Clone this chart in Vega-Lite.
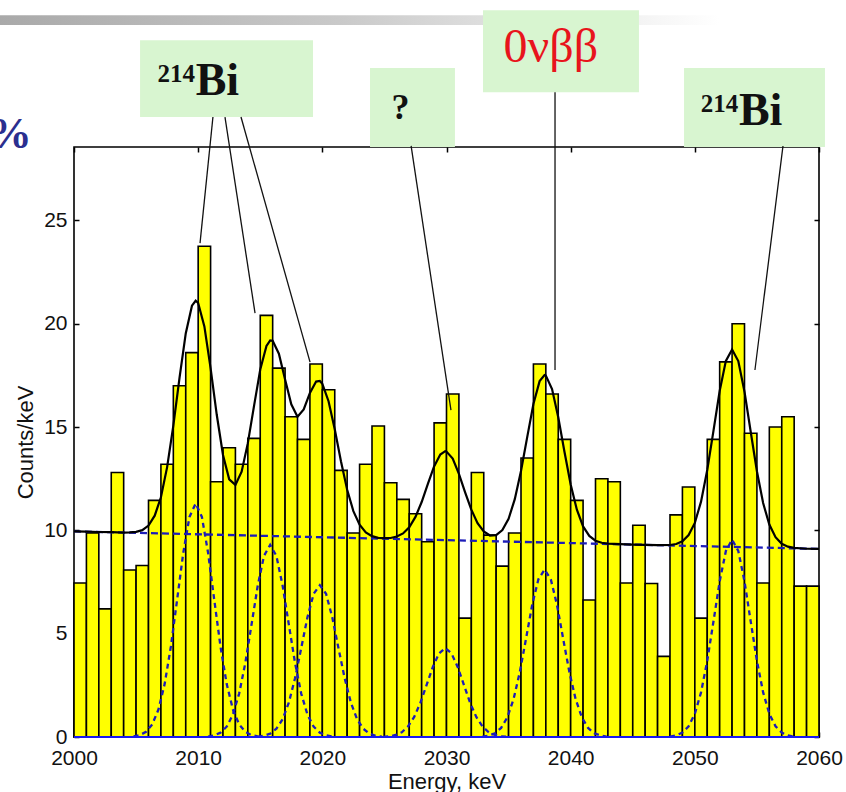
{
"$schema": "https://vega.github.io/schema/vega-lite/v6.json",
"width": 745, "height": 590,
"autosize": "none",
"padding": {"left": 74, "top": 147, "right": 27, "bottom": 55},
"background": "white",
"config": {"view": {"stroke": "#000", "strokeWidth": 1.6}, "axis": {"grid": false, "domain": false, "labelFont": "Liberation Sans", "titleFont": "Liberation Sans", "labelColor": "#111", "titleColor": "#111", "titleFontWeight": "normal", "tickColor": "#000", "tickWidth": 1.5}},
"resolve": {"axis": {"x": "independent", "y": "independent"}},
"datasets": {
"bars": [
{"lo":2000,"hi":2001,"c":7.45},{"lo":2001,"hi":2002,"c":9.87},{"lo":2002,"hi":2003,"c":6.2},{"lo":2003,"hi":2004,"c":12.8},{"lo":2004,"hi":2005,"c":8.08},
{"lo":2005,"hi":2006,"c":8.3},{"lo":2006,"hi":2007,"c":11.45},{"lo":2007,"hi":2008,"c":13.2},{"lo":2008,"hi":2009,"c":17.0},{"lo":2009,"hi":2010,"c":18.6},
{"lo":2010,"hi":2011,"c":23.75},{"lo":2011,"hi":2012,"c":12.35},{"lo":2012,"hi":2013,"c":14.0},{"lo":2013,"hi":2014,"c":13.2},{"lo":2014,"hi":2015,"c":14.45},
{"lo":2015,"hi":2016,"c":20.4},{"lo":2016,"hi":2017,"c":17.85},{"lo":2017,"hi":2018,"c":15.5},{"lo":2018,"hi":2019,"c":14.4},{"lo":2019,"hi":2020,"c":18.05},
{"lo":2020,"hi":2021,"c":16.8},{"lo":2021,"hi":2022,"c":12.9},{"lo":2022,"hi":2023,"c":9.87},{"lo":2023,"hi":2024,"c":13.2},{"lo":2024,"hi":2025,"c":15.05},
{"lo":2025,"hi":2026,"c":12.3},{"lo":2026,"hi":2027,"c":11.5},{"lo":2027,"hi":2028,"c":10.8},{"lo":2028,"hi":2029,"c":9.45},{"lo":2029,"hi":2030,"c":15.2},
{"lo":2030,"hi":2031,"c":16.6},{"lo":2031,"hi":2032,"c":5.75},{"lo":2032,"hi":2033,"c":12.8},{"lo":2033,"hi":2034,"c":9.77},{"lo":2034,"hi":2035,"c":8.27},
{"lo":2035,"hi":2036,"c":9.87},{"lo":2036,"hi":2037,"c":13.5},{"lo":2037,"hi":2038,"c":18.05},{"lo":2038,"hi":2039,"c":16.6},{"lo":2039,"hi":2040,"c":14.4},
{"lo":2040,"hi":2041,"c":11.45},{"lo":2041,"hi":2042,"c":6.63},{"lo":2042,"hi":2043,"c":12.5},{"lo":2043,"hi":2044,"c":12.35},{"lo":2044,"hi":2045,"c":7.45},
{"lo":2045,"hi":2046,"c":10.25},{"lo":2046,"hi":2047,"c":7.43},{"lo":2047,"hi":2048,"c":3.9},{"lo":2048,"hi":2049,"c":10.75},{"lo":2049,"hi":2050,"c":12.1},
{"lo":2050,"hi":2051,"c":5.75},{"lo":2051,"hi":2052,"c":14.4},{"lo":2052,"hi":2053,"c":18.15},{"lo":2053,"hi":2054,"c":20.0},{"lo":2054,"hi":2055,"c":14.7},
{"lo":2055,"hi":2056,"c":7.45},{"lo":2056,"hi":2057,"c":15.0},{"lo":2057,"hi":2058,"c":15.5},{"lo":2058,"hi":2059,"c":7.3},{"lo":2059,"hi":2060,"c":7.3}
],
"fit": [
{"e":2000,"v":9.95},{"e":2001,"v":9.94},{"e":2002,"v":9.92},{"e":2003,"v":9.91},{"e":2004,"v":9.89},{"e":2004.5,"v":9.9},{"e":2005,"v":9.93},{"e":2005.5,"v":10.01},
{"e":2006,"v":10.23},{"e":2006.5,"v":10.71},{"e":2007,"v":11.6},{"e":2007.5,"v":13.06},{"e":2008,"v":15.07},{"e":2008.5,"v":17.39},{"e":2009,"v":19.53},{"e":2009.5,"v":20.87},
{"e":2009.8,"v":21.11},{"e":2010,"v":21.0},{"e":2010.5,"v":19.87},{"e":2011,"v":17.85},{"e":2011.5,"v":15.58},{"e":2012,"v":13.65},{"e":2012.5,"v":12.47},{"e":2013,"v":12.2},
{"e":2013.5,"v":12.84},{"e":2014,"v":14.22},{"e":2014.5,"v":16.02},{"e":2015,"v":17.78},{"e":2015.5,"v":18.92},{"e":2015.8,"v":19.19},{"e":2016,"v":19.17},{"e":2016.5,"v":18.55},
{"e":2017,"v":17.3},{"e":2017.5,"v":16.1},{"e":2018,"v":15.5},{"e":2018.5,"v":15.85},{"e":2019,"v":16.65},{"e":2019.5,"v":17.2},{"e":2019.8,"v":17.23},{"e":2020,"v":17.09},
{"e":2020.5,"v":16.25},{"e":2021,"v":14.89},{"e":2021.5,"v":13.34},{"e":2022,"v":11.96},{"e":2022.5,"v":10.93},{"e":2023,"v":10.27},{"e":2023.5,"v":9.9},{"e":2024,"v":9.72},
{"e":2024.5,"v":9.64},{"e":2025,"v":9.62},{"e":2025.5,"v":9.63},{"e":2026,"v":9.7},{"e":2026.5,"v":9.85},{"e":2027,"v":10.15},{"e":2027.5,"v":10.65},{"e":2028,"v":11.37},
{"e":2028.5,"v":12.25},{"e":2029,"v":13.09},{"e":2029.5,"v":13.67},{"e":2029.9,"v":13.83},{"e":2030,"v":13.81},{"e":2030.5,"v":13.47},{"e":2031,"v":12.73},{"e":2031.5,"v":11.84},
{"e":2032,"v":11.0},{"e":2032.5,"v":10.35},{"e":2033,"v":9.95},{"e":2033.5,"v":9.75},{"e":2034,"v":9.77},{"e":2034.5,"v":10.01},{"e":2035,"v":10.56},{"e":2035.5,"v":11.51},
{"e":2036,"v":12.87},{"e":2036.5,"v":14.51},{"e":2037,"v":16.11},{"e":2037.5,"v":17.22},{"e":2037.9,"v":17.51},{"e":2038,"v":17.49},{"e":2038.5,"v":16.84},{"e":2039,"v":15.47},
{"e":2039.5,"v":13.8},{"e":2040,"v":12.22},{"e":2040.5,"v":11.0},{"e":2041,"v":10.19},{"e":2041.5,"v":9.73},{"e":2042,"v":9.5},{"e":2042.5,"v":9.4},{"e":2043,"v":9.36},
{"e":2044,"v":9.33},{"e":2045,"v":9.31},{"e":2046,"v":9.3},{"e":2047,"v":9.28},{"e":2048,"v":9.29},{"e":2048.5,"v":9.34},{"e":2049,"v":9.47},{"e":2049.5,"v":9.77},
{"e":2050,"v":10.36},{"e":2050.5,"v":11.39},{"e":2051,"v":12.92},{"e":2051.5,"v":14.81},{"e":2052,"v":16.74},{"e":2052.5,"v":18.2},{"e":2053,"v":18.75},{"e":2053.5,"v":18.19},
{"e":2054,"v":16.71},{"e":2054.5,"v":14.77},{"e":2055,"v":12.86},{"e":2055.5,"v":11.32},{"e":2056,"v":10.28},{"e":2056.5,"v":9.67},{"e":2057,"v":9.35},{"e":2057.5,"v":9.21},
{"e":2058,"v":9.15},{"e":2059,"v":9.11},{"e":2060,"v":9.1}
],
"gauss": [
{"p":"P1","e":2004.8,"v":0.03},{"p":"P1","e":2005.3,"v":0.09},{"p":"P1","e":2005.8,"v":0.25},{"p":"P1","e":2006.3,"v":0.61},{"p":"P1","e":2006.8,"v":1.33},{"p":"P1","e":2007.3,"v":2.56},{"p":"P1","e":2007.8,"v":4.37},{"p":"P1","e":2008.3,"v":6.62},{"p":"P1","e":2008.8,"v":8.91},{"p":"P1","e":2009.3,"v":10.65},{"p":"P1","e":2009.8,"v":11.3},{"p":"P1","e":2010.3,"v":10.65},{"p":"P1","e":2010.8,"v":8.91},{"p":"P1","e":2011.3,"v":6.62},{"p":"P1","e":2011.8,"v":4.37},{"p":"P1","e":2012.3,"v":2.56},{"p":"P1","e":2012.8,"v":1.33},{"p":"P1","e":2013.3,"v":0.61},{"p":"P1","e":2013.8,"v":0.25},{"p":"P1","e":2014.3,"v":0.09},{"p":"P1","e":2014.8,"v":0.03},
{"p":"P2","e":2010.8,"v":0.02},{"p":"P2","e":2011.3,"v":0.08},{"p":"P2","e":2011.8,"v":0.21},{"p":"P2","e":2012.3,"v":0.5},{"p":"P2","e":2012.8,"v":1.09},{"p":"P2","e":2013.3,"v":2.1},{"p":"P2","e":2013.8,"v":3.59},{"p":"P2","e":2014.3,"v":5.45},{"p":"P2","e":2014.8,"v":7.33},{"p":"P2","e":2015.3,"v":8.76},{"p":"P2","e":2015.8,"v":9.3},{"p":"P2","e":2016.3,"v":8.76},{"p":"P2","e":2016.8,"v":7.33},{"p":"P2","e":2017.3,"v":5.45},{"p":"P2","e":2017.8,"v":3.59},{"p":"P2","e":2018.3,"v":2.1},{"p":"P2","e":2018.8,"v":1.09},{"p":"P2","e":2019.3,"v":0.5},{"p":"P2","e":2019.8,"v":0.21},{"p":"P2","e":2020.3,"v":0.08},{"p":"P2","e":2020.8,"v":0.02},
{"p":"P3","e":2014.8,"v":0.02},{"p":"P3","e":2015.3,"v":0.06},{"p":"P3","e":2015.8,"v":0.16},{"p":"P3","e":2016.3,"v":0.4},{"p":"P3","e":2016.8,"v":0.86},{"p":"P3","e":2017.3,"v":1.66},{"p":"P3","e":2017.8,"v":2.84},{"p":"P3","e":2018.3,"v":4.3},{"p":"P3","e":2018.8,"v":5.79},{"p":"P3","e":2019.3,"v":6.93},{"p":"P3","e":2019.8,"v":7.35},{"p":"P3","e":2020.3,"v":6.93},{"p":"P3","e":2020.8,"v":5.79},{"p":"P3","e":2021.3,"v":4.3},{"p":"P3","e":2021.8,"v":2.84},{"p":"P3","e":2022.3,"v":1.66},{"p":"P3","e":2022.8,"v":0.86},{"p":"P3","e":2023.3,"v":0.4},{"p":"P3","e":2023.8,"v":0.16},{"p":"P3","e":2024.3,"v":0.06},{"p":"P3","e":2024.8,"v":0.02},
{"p":"P4","e":2024.9,"v":0.01},{"p":"P4","e":2025.4,"v":0.03},{"p":"P4","e":2025.9,"v":0.1},{"p":"P4","e":2026.4,"v":0.23},{"p":"P4","e":2026.9,"v":0.51},{"p":"P4","e":2027.4,"v":0.97},{"p":"P4","e":2027.9,"v":1.66},{"p":"P4","e":2028.4,"v":2.52},{"p":"P4","e":2028.9,"v":3.39},{"p":"P4","e":2029.4,"v":4.05},{"p":"P4","e":2029.9,"v":4.3},{"p":"P4","e":2030.4,"v":4.05},{"p":"P4","e":2030.9,"v":3.39},{"p":"P4","e":2031.4,"v":2.52},{"p":"P4","e":2031.9,"v":1.66},{"p":"P4","e":2032.4,"v":0.97},{"p":"P4","e":2032.9,"v":0.51},{"p":"P4","e":2033.4,"v":0.23},{"p":"P4","e":2033.9,"v":0.1},{"p":"P4","e":2034.4,"v":0.03},{"p":"P4","e":2034.9,"v":0.01},
{"p":"P5","e":2032.9,"v":0.02},{"p":"P5","e":2033.4,"v":0.07},{"p":"P5","e":2033.9,"v":0.18},{"p":"P5","e":2034.4,"v":0.44},{"p":"P5","e":2034.9,"v":0.95},{"p":"P5","e":2035.4,"v":1.83},{"p":"P5","e":2035.9,"v":3.13},{"p":"P5","e":2036.4,"v":4.74},{"p":"P5","e":2036.9,"v":6.39},{"p":"P5","e":2037.4,"v":7.63},{"p":"P5","e":2037.9,"v":8.1},{"p":"P5","e":2038.4,"v":7.63},{"p":"P5","e":2038.9,"v":6.39},{"p":"P5","e":2039.4,"v":4.74},{"p":"P5","e":2039.9,"v":3.13},{"p":"P5","e":2040.4,"v":1.83},{"p":"P5","e":2040.9,"v":0.95},{"p":"P5","e":2041.4,"v":0.44},{"p":"P5","e":2041.9,"v":0.18},{"p":"P5","e":2042.4,"v":0.07},{"p":"P5","e":2042.9,"v":0.02},
{"p":"P6","e":2048.0,"v":0.02},{"p":"P6","e":2048.5,"v":0.08},{"p":"P6","e":2049.0,"v":0.21},{"p":"P6","e":2049.5,"v":0.52},{"p":"P6","e":2050.0,"v":1.12},{"p":"P6","e":2050.5,"v":2.16},{"p":"P6","e":2051.0,"v":3.69},{"p":"P6","e":2051.5,"v":5.59},{"p":"P6","e":2052.0,"v":7.53},{"p":"P6","e":2052.5,"v":9.0},{"p":"P6","e":2053.0,"v":9.55},{"p":"P6","e":2053.5,"v":9.0},{"p":"P6","e":2054.0,"v":7.53},{"p":"P6","e":2054.5,"v":5.59},{"p":"P6","e":2055.0,"v":3.69},{"p":"P6","e":2055.5,"v":2.16},{"p":"P6","e":2056.0,"v":1.12},{"p":"P6","e":2056.5,"v":0.52},{"p":"P6","e":2057.0,"v":0.21},{"p":"P6","e":2057.5,"v":0.08},{"p":"P6","e":2058.0,"v":0.02}
]
},
"layer": [
{"data": {"values": [{"x1": 1994.0, "x2": 2062.2, "y1": 34.45, "y2": 34.93}]},
 "mark": {"type": "rect", "fill": {"gradient": "linear", "x1": 0, "y1": 0, "x2": 1, "y2": 0, "stops": [{"offset": 0, "color": "#a9a9a9"}, {"offset": 0.4, "color": "#c9c9c9"}, {"offset": 0.85, "color": "#ffffff"}]}},
 "encoding": {"x": {"field": "x1", "type": "quantitative", "scale": {"domain": [2000, 2060], "nice": false, "zero": false}, "axis": null}, "x2": {"field": "x2"},
  "y": {"field": "y1", "type": "quantitative", "scale": {"domain": [0, 28.55], "nice": false, "zero": false}, "axis": null}, "y2": {"field": "y2"}}},
{"data": {"values": [
  {"x1": 2005.32, "x2": 2019.25, "y1": 30.0, "y2": 33.72},
  {"x1": 2023.84, "x2": 2030.68, "y1": 28.55, "y2": 32.37},
  {"x1": 2032.94, "x2": 2045.5, "y1": 31.2, "y2": 35.17},
  {"x1": 2049.13, "x2": 2060.48, "y1": 28.55, "y2": 32.37}]},
 "mark": {"type": "rect", "fill": "#d8f5d0"},
 "encoding": {"x": {"field": "x1", "type": "quantitative", "scale": {"domain": [2000, 2060], "nice": false, "zero": false}, "axis": null}, "x2": {"field": "x2"},
  "y": {"field": "y1", "type": "quantitative", "scale": {"domain": [0, 28.55], "nice": false, "zero": false}, "axis": null}, "y2": {"field": "y2"}}},
{"data": {"name": "bars"},
 "mark": {"type": "rect", "fill": "#ffff00", "stroke": "#000", "strokeWidth": 1.6},
 "encoding": {
  "x": {"field": "lo", "type": "quantitative", "scale": {"domain": [2000, 2060], "nice": false, "zero": false},
   "axis": {"orient": "bottom", "values": [2000, 2010, 2020, 2030, 2040, 2050, 2060], "format": "d", "title": "Energy, keV", "titleFontSize": 22, "titlePadding": 3, "labelFontSize": 21, "tickSize": -5, "labelPadding": 15, "labelFlush": false, "labelOverlap": false}},
  "x2": {"field": "hi"},
  "y": {"field": "c", "type": "quantitative", "scale": {"domain": [0, 28.55], "nice": false, "zero": false},
   "axis": {"orient": "left", "values": [0, 5, 10, 15, 20, 25], "title": "Counts/keV", "titleFontSize": 22, "titlePadding": 6, "labelFontSize": 21, "tickSize": -5, "labelPadding": 12}},
  "y2": {"datum": 0}}},
{"data": {"values": [{"e": 2000, "v": 9.95}, {"e": 2060, "v": 9.1}]},
 "mark": {"type": "line", "color": "#1c1cb8", "strokeWidth": 2.3, "strokeDash": [7, 4]},
 "encoding": {"x": {"field": "e", "type": "quantitative", "scale": {"domain": [2000, 2060], "nice": false, "zero": false}, "axis": null},
  "y": {"field": "v", "type": "quantitative", "scale": {"domain": [0, 28.55], "nice": false, "zero": false}, "axis": null}}},
{"data": {"name": "gauss"},
 "mark": {"type": "line", "color": "#1c1cb8", "strokeWidth": 2.3, "strokeDash": [5, 4]},
 "encoding": {"x": {"field": "e", "type": "quantitative", "scale": {"domain": [2000, 2060], "nice": false, "zero": false}, "axis": null},
  "y": {"field": "v", "type": "quantitative", "scale": {"domain": [0, 28.55], "nice": false, "zero": false}, "axis": null},
  "detail": {"field": "p", "type": "nominal"}}},
{"data": {"name": "fit"},
 "mark": {"type": "line", "color": "#000", "strokeWidth": 2.2},
 "encoding": {"x": {"field": "e", "type": "quantitative", "scale": {"domain": [2000, 2060], "nice": false, "zero": false}, "axis": null},
  "y": {"field": "v", "type": "quantitative", "scale": {"domain": [0, 28.55], "nice": false, "zero": false}, "axis": null}}},
{"data": {"values": [{"a": 2000, "b": 2060, "z": 0}]},
 "mark": {"type": "rule", "color": "#1a1aee", "strokeWidth": 2},
 "encoding": {
  "x": {"field": "a", "type": "quantitative", "scale": {"domain": [2000, 2060], "nice": false, "zero": false},
   "axis": {"orient": "top", "values": [2000, 2010, 2020, 2030, 2040, 2050, 2060], "labels": false, "title": null, "tickSize": -5}},
  "x2": {"field": "b"},
  "y": {"field": "z", "type": "quantitative", "scale": {"domain": [0, 28.55], "nice": false, "zero": false},
   "axis": {"orient": "right", "values": [0, 5, 10, 15, 20, 25], "labels": false, "title": null, "tickSize": -5}}}},
{"data": {"values": [
  {"x1": 2011.19, "y1": 30.0, "x2": 2010.15, "y2": 23.9},
  {"x1": 2012.16, "y1": 30.0, "x2": 2014.58, "y2": 20.51},
  {"x1": 2013.45, "y1": 30.0, "x2": 2019.01, "y2": 18.14},
  {"x1": 2027.15, "y1": 28.6, "x2": 2030.36, "y2": 15.82},
  {"x1": 2038.74, "y1": 31.2, "x2": 2038.74, "y2": 17.76},
  {"x1": 2057.1, "y1": 28.6, "x2": 2054.84, "y2": 17.76}]},
 "mark": {"type": "rule", "color": "#111", "strokeWidth": 1.3},
 "encoding": {"x": {"field": "x1", "type": "quantitative", "scale": {"domain": [2000, 2060], "nice": false, "zero": false}, "axis": null}, "x2": {"field": "x2"},
  "y": {"field": "y1", "type": "quantitative", "scale": {"domain": [0, 28.55], "nice": false, "zero": false}, "axis": null}, "y2": {"field": "y2"}}},
{"data": {"values": [{"x": 2009.8, "y": 31.06, "t": "Bi"}, {"x": 2053.55, "y": 29.6, "t": "Bi"}]},
 "mark": {"type": "text", "font": "Liberation Serif", "fontWeight": "bold", "fontSize": 46, "align": "left", "baseline": "alphabetic", "color": "#111"},
 "encoding": {"x": {"field": "x", "type": "quantitative", "scale": {"domain": [2000, 2060], "nice": false, "zero": false}, "axis": null},
  "y": {"field": "y", "type": "quantitative", "scale": {"domain": [0, 28.55], "nice": false, "zero": false}, "axis": null}, "text": {"field": "t"}}},
{"data": {"values": [{"x": 2009.75, "y": 31.7, "t": "214"}, {"x": 2053.5, "y": 30.25, "t": "214"}]},
 "mark": {"type": "text", "font": "Liberation Serif", "fontWeight": "bold", "fontSize": 25, "align": "right", "baseline": "alphabetic", "color": "#111"},
 "encoding": {"x": {"field": "x", "type": "quantitative", "scale": {"domain": [2000, 2060], "nice": false, "zero": false}, "axis": null},
  "y": {"field": "y", "type": "quantitative", "scale": {"domain": [0, 28.55], "nice": false, "zero": false}, "axis": null}, "text": {"field": "t"}}},
{"data": {"values": [{"x": 2026.3, "y": 29.9, "t": "?"}]},
 "mark": {"type": "text", "font": "Liberation Serif", "fontWeight": "bold", "fontSize": 36, "align": "center", "baseline": "alphabetic", "color": "#111"},
 "encoding": {"x": {"field": "x", "type": "quantitative", "scale": {"domain": [2000, 2060], "nice": false, "zero": false}, "axis": null},
  "y": {"field": "y", "type": "quantitative", "scale": {"domain": [0, 28.55], "nice": false, "zero": false}, "axis": null}, "text": {"field": "t"}}},
{"data": {"values": [{"x": 2038.4, "y": 32.66, "t": "0νββ"}]},
 "mark": {"type": "text", "font": "Liberation Serif", "fontSize": 48, "align": "center", "baseline": "alphabetic", "color": "#e8141c"},
 "encoding": {"x": {"field": "x", "type": "quantitative", "scale": {"domain": [2000, 2060], "nice": false, "zero": false}, "axis": null},
  "y": {"field": "y", "type": "quantitative", "scale": {"domain": [0, 28.55], "nice": false, "zero": false}, "axis": null}, "text": {"field": "t"}}},
{"data": {"values": [{"x": 1996.6, "y": 28.5, "t": "%"}]},
 "mark": {"type": "text", "font": "Liberation Serif", "fontWeight": "bold", "fontSize": 44, "align": "right", "baseline": "alphabetic", "color": "#2b2f8f"},
 "encoding": {"x": {"field": "x", "type": "quantitative", "scale": {"domain": [2000, 2060], "nice": false, "zero": false}, "axis": null},
  "y": {"field": "y", "type": "quantitative", "scale": {"domain": [0, 28.55], "nice": false, "zero": false}, "axis": null}, "text": {"field": "t"}}}
]
}
